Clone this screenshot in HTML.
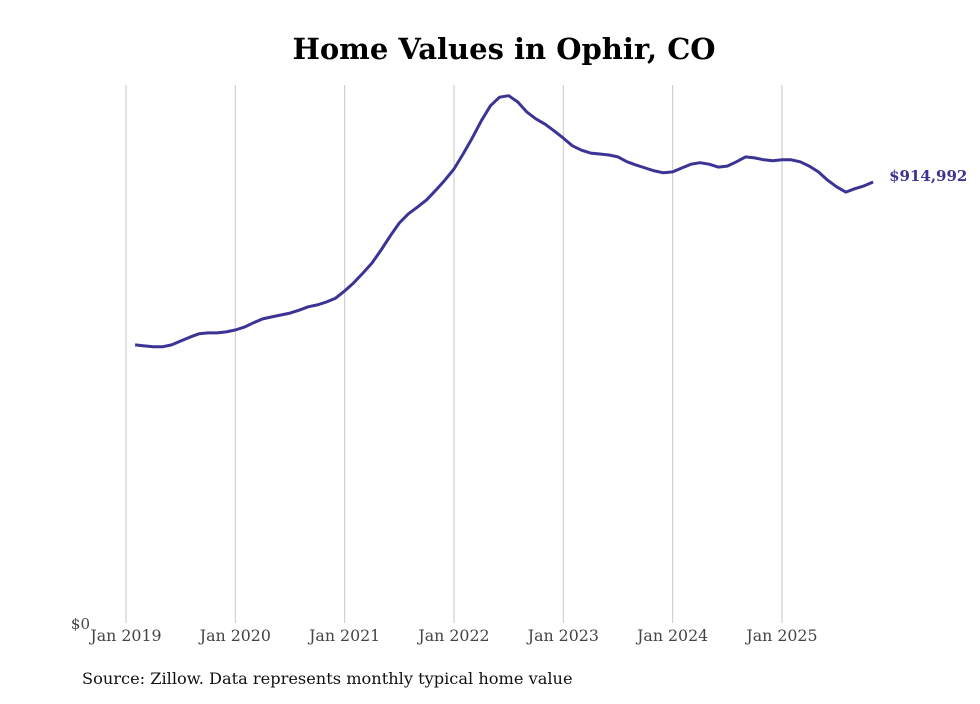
<!DOCTYPE html>
<html><head><meta charset="utf-8"><style>
body{margin:0;background:#fff;}
svg text{font-family:"DejaVu Serif","Liberation Serif",serif;}
</style></head><body>
<svg width="980" height="699" xmlns="http://www.w3.org/2000/svg">
<rect width="980" height="699" fill="#fff"/>
<text x="504" y="59" text-anchor="middle" font-size="29" font-weight="bold" fill="#000">Home Values in Ophir, CO</text>
<g id="grid"></g>
<g id="xticks"></g>
<text x="90" y="629" text-anchor="end" font-size="15" fill="#444">$0</text>
<path id="line" fill="none" stroke="#3b3494" stroke-width="3" stroke-linejoin="round"/>
<text id="endlabel" font-size="15" font-weight="bold" fill="#3b3494"></text>
<text x="82" y="684" font-size="16.2" fill="#111">Source: Zillow. Data represents monthly typical home value</text>
</svg>
<script>
const yearLabels=["Jan 2019","Jan 2020","Jan 2021","Jan 2022","Jan 2023","Jan 2024","Jan 2025"];
const startMonth=1; // Feb 2019 (months since Jan 2019)
const valuesK=[577,575,573,573,577,585,593,600,602,602,604,
608,614,623,631,635,639,643,649,656,660,666,674,
689,706,726,747,774,803,830,849,863,878,898,919,
942,973,1006,1042,1073,1091,1094,1081,1060,1046,1035,1021,
1006,990,981,975,973,971,967,957,950,944,938,934,
936,944,952,955,952,946,948,957,967,965,961,959,
961,961,957,948,936,919,905,894,901,907,914.992];
const NS="http://www.w3.org/2000/svg";
const x0=126,pxPerMonth=109.33/12,y0=623,pxPerK=441/914.992;
const xs=m=>x0+m*pxPerMonth, ys=v=>y0-v*pxPerK;
const grid=document.getElementById('grid'),xt=document.getElementById('xticks');
yearLabels.forEach((l,i)=>{
  const x=xs(i*12);
  const ln=document.createElementNS(NS,'line');
  ln.setAttribute('x1',x);ln.setAttribute('x2',x);ln.setAttribute('y1',85);ln.setAttribute('y2',y0);
  ln.setAttribute('stroke','#c8c8c8');ln.setAttribute('stroke-width','1');
  
  
  grid.appendChild(ln);
  const t=document.createElementNS(NS,'text');
  t.setAttribute('x',x);t.setAttribute('y',641);t.setAttribute('text-anchor','middle');
  t.setAttribute('font-size','15.8');t.setAttribute('fill','#444');t.textContent=l;
  
  
  xt.appendChild(t);
});
let d='';
valuesK.forEach((v,i)=>{d+=(i?'L':'M')+xs(startMonth+i).toFixed(1)+','+ys(v).toFixed(1);});
document.getElementById('line').setAttribute('d',d);
const last=valuesK[valuesK.length-1];
const el=document.getElementById('endlabel');
el.setAttribute('x',xs(startMonth+valuesK.length-1)+16);
el.setAttribute('y',ys(last)-1);
el.textContent='$'+Math.round(last*1000).toLocaleString('en-US');
</script>
</body></html>
